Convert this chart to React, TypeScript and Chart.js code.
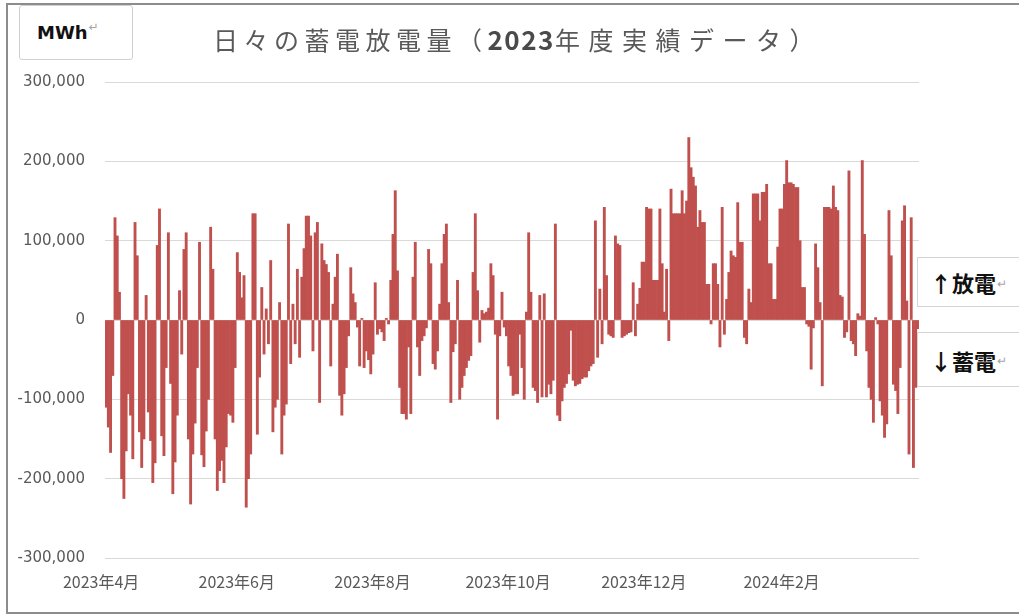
import React, { useEffect, useRef } from "react";
import { Chart, registerables } from "chart.js";

Chart.register(...registerables);

// ---- data -------------------------------------------------------------
const chartTitleMain = "日々の蓄電放電量（";
const chartTitleYear = "2023";
const chartTitleRest = "年度実績データ）";
const unitLabel = "MWh";
const dischargeLabel = "↑放電";
const chargeLabel = "↓蓄電";

const fiscalYearStartUTC = { year: 2023, monthIndex: 3, day: 1 }; // 2023-04-01

const tickMonths = ["2023-04", "2023-06", "2023-08", "2023-10", "2023-12", "2024-02"];
const tickLabels = ["2023年4月", "2023年6月", "2023年8月", "2023年10月", "2023年12月", "2024年2月"];

const yTickValues = [-300000, -200000, -100000, 0, 100000, 200000, 300000];

// daily net (discharge + / charge -) MWh, FY2023 (2023-04-01 .. 2024-03-31)
const dailyNetMWh = [
  -110000, -135000, -167000, -70000, 129000, 106000, 35000, -200000, -225000, -165000,
  -93000, -120000, -175000, 123000, 81000, -141000, -186000, -150000, 31000, -116000,
  -152000, -205000, -180000, 94000, 140000, -146000, -171000, -60000, 110000, -80000,
  -219000, -179000, -120000, 37000, -43000, 89000, 110000, -150000, -232000, -169000,
  -130000, -60000, 98000, -170000, -185000, -140000, -100000, 117000, 64000, -150000,
  -215000, -190000, -177000, -205000, -160000, -118000, -120000, -129000, -60000, 85000,
  60000, 28000, 56000, -236000, -200000, -169000, 134000, 134000, -144000, -72000,
  41000, -43000, 14000, -30000, 75000, -141000, -110000, -100000, 22000, -169000,
  -120000, -106000, 121000, -55000, 20000, -30000, 64000, -47000, 54000, 90000,
  131000, 131000, 106000, -39000, 110000, 123000, -104000, 96000, 75000, 70000,
  60000, -58000, 20000, 54000, 83000, -95000, -120000, -93000, -60000, -20000,
  66000, 33000, 22000, -9000, -58000, 2000, -60000, -39000, -50000, -68000,
  -43000, 47000, -18000, -11000, -15000, -26000, 2000, -5000, 50000, 108000,
  163000, 62000, -85000, -118000, -118000, -125000, -34000, -118000, 54000, 98000,
  -34000, -70000, -26000, -20000, -10000, 89000, 71000, -55000, -62000, -39000,
  20000, 71000, 108000, 121000, 22000, -104000, -40000, -30000, 50000, -100000,
  -85000, -70000, -60000, -51000, -45000, 60000, 134000, 37000, -28000, 12000,
  8000, 10000, 15000, 71000, 56000, -18000, -125000, -20000, 35000, -9000,
  -20000, -58000, -70000, -95000, -93000, -93000, -18000, -60000, -100000, 10000,
  110000, 35000, -85000, -89000, -104000, 31000, -97000, 33000, -97000, -81000,
  -93000, -76000, 121000, -120000, -127000, -102000, -85000, -80000, -68000, -13000,
  -76000, -83000, -81000, -80000, -74000, -72000, -72000, -64000, -58000, -55000,
  125000, -47000, 39000, -30000, 142000, 56000, -18000, -20000, -22000, 106000,
  96000, 94000, -22000, -20000, -18000, -16000, -15000, 47000, -20000, 20000,
  40000, 73000, 73000, 142000, 140000, 140000, 50000, 50000, 50000, 140000,
  71000, 10000, 64000, -26000, 165000, 134000, 134000, 134000, 134000, 163000,
  134000, 150000, 230000, 192000, 180000, 169000, 117000, 138000, 123000, 123000,
  45000, 45000, -5000, 71000, 71000, 45000, -34000, 142000, -18000, 26000,
  60000, 87000, 81000, 79000, 148000, 98000, 98000, -22000, -30000, 39000,
  22000, 159000, 159000, 159000, 125000, 161000, 161000, 171000, 71000, 71000,
  26000, 26000, 92000, 140000, 140000, 171000, 201000, 173000, 173000, 171000,
  167000, 167000, 100000, 41000, 41000, -5000, -8000, -62000, -10000, 96000,
  66000, 22000, -83000, 142000, 142000, 142000, 140000, 169000, 142000, 138000,
  31000, 29000, -22000, -15000, 188000, -26000, -30000, -45000, 8000, 5000,
  201000, 108000, -39000, -85000, -100000, -129000, 3000, -5000, -102000, -120000,
  -148000, -131000, 138000, 81000, -81000, -89000, -118000, -60000, 125000, 144000,
  24000, -169000, 129000, -186000, -85000, -11000,
];

function buildDates(count: number): string[] {
  const start = Date.UTC(fiscalYearStartUTC.year, fiscalYearStartUTC.monthIndex, fiscalYearStartUTC.day);
  const out: string[] = [];
  for (let i = 0; i < count; i++) {
    out.push(new Date(start + i * 86400000).toISOString().slice(0, 10));
  }
  return out;
}

const dayLabels = buildDates(dailyNetMWh.length);

// ---- component --------------------------------------------------------
export default function App() {
  const canvasRef = useRef<HTMLCanvasElement | null>(null);

  useEffect(() => {
    if (!canvasRef.current) return;
    const chart = new Chart(canvasRef.current, {
      type: "bar",
      data: {
        labels: dayLabels,
        datasets: [
          {
            data: dailyNetMWh,
            backgroundColor: "#c0504d",
            borderWidth: 0,
            barPercentage: 1,
            categoryPercentage: 1,
          },
        ],
      },
      options: {
        animation: false,
        responsive: false,
        events: [],
        layout: { padding: { left: 0, right: 100, top: 82, bottom: 0 } },
        plugins: {
          legend: { display: false },
          tooltip: { enabled: false },
          title: { display: false },
        },
        scales: {
          x: {
            grid: { display: false, drawTicks: false },
            border: { display: false },
            ticks: {
              autoSkip: false,
              maxRotation: 0,
              minRotation: 0,
              padding: 14,
              labelOffset: -5,
              color: "#595959",
              font: { family: "'Noto Sans CJK JP', 'Noto Sans', sans-serif", size: 16 },
              callback: (_v: any, i: number) => {
                const d = dayLabels[i];
                if (!d || d.slice(8) !== "01") return "";
                const k = tickMonths.indexOf(d.slice(0, 7));
                return k >= 0 ? tickLabels[k] : "";
              },
            },
            afterFit: (s: any) => {
              s.height = 58;
            },
          },
          y: {
            min: -300000,
            max: 300000,
            afterBuildTicks: (s: any) => {
              s.ticks = yTickValues.map((v) => ({ value: v }));
            },
            grid: { color: "#d9d9d9", lineWidth: 1, drawTicks: false },
            border: { display: false },
            ticks: {
              padding: 20,
              color: "#595959",
              font: { family: "'DejaVu Sans', sans-serif", size: 15 },
              callback: (v: any) => Number(v).toLocaleString("en-US"),
            },
            afterFit: (s: any) => {
              s.width = 105;
            },
          },
        },
      },
    });
    return () => chart.destroy();
  }, []);

  const boxStyle: React.CSSProperties = {
    position: "absolute",
    left: 917,
    width: 110,
    background: "#fff",
    borderTop: "1px solid #d4d4d4",
    borderBottom: "1px solid #d4d4d4",
    borderLeft: "1px solid #d4d4d4",
    display: "flex",
    alignItems: "center",
    paddingLeft: 12,
    boxSizing: "border-box",
    fontFamily: "'Noto Sans CJK JP', sans-serif",
    fontWeight: 700,
    fontSize: 22,
    color: "#111",
  };
  const retMark: React.CSSProperties = {
    fontSize: 12,
    fontWeight: 400,
    color: "#a6a6a6",
    marginLeft: 1,
  };

  return (
    <div
      style={{
        position: "fixed",
        left: 0,
        top: 0,
        width: 1019,
        height: 616,
        overflow: "hidden",
        background: "#fff",
      }}
    >
      <canvas ref={canvasRef} width={1019} height={616} style={{ position: "absolute", left: 0, top: 0 }} />
      {/* outer frame */}
      <div
        style={{
          position: "absolute",
          left: 6,
          top: 3,
          width: 1020,
          height: 607,
          borderLeft: "2px solid #8c8c8c",
          borderTop: "2px solid #8c8c8c",
          borderBottom: "2px solid #8c8c8c",
          pointerEvents: "none",
        }}
      />
      {/* unit box */}
      <div
        style={{
          position: "absolute",
          left: 19,
          top: 5,
          width: 114,
          height: 55,
          boxSizing: "border-box",
          border: "1px solid #d0d0d0",
          borderRadius: 3,
          background: "#fff",
          display: "flex",
          alignItems: "center",
          paddingLeft: 17,
          fontFamily: "'DejaVu Sans', sans-serif",
          fontWeight: 700,
          fontSize: 18,
          color: "#111",
        }}
      >
        {unitLabel}
        <span style={{ ...retMark, alignSelf: "flex-start", marginTop: 14 }}>↵</span>
      </div>
      {/* title */}
      <div
        style={{
          position: "absolute",
          left: 213,
          top: 24,
          lineHeight: "30px",
          whiteSpace: "nowrap",
          fontFamily: "'Noto Sans CJK JP', sans-serif",
          fontSize: 25,
          letterSpacing: 5.5,
          color: "#595959",
        }}
      >
        {chartTitleMain}
        <span style={{ fontWeight: 700, fontSize: 26, color: "#4a4a4a", letterSpacing: 1.5 }}>{chartTitleYear}</span>
        <span style={{ letterSpacing: 8.5 }}>{chartTitleRest}</span>
      </div>
      {/* annotation boxes */}
      <div style={{ ...boxStyle, top: 257, height: 50 }}>
        {dischargeLabel}
        <span style={retMark}>↵</span>
      </div>
      <div style={{ ...boxStyle, top: 332, height: 55 }}>
        {chargeLabel}
        <span style={retMark}>↵</span>
      </div>
    </div>
  );
}
